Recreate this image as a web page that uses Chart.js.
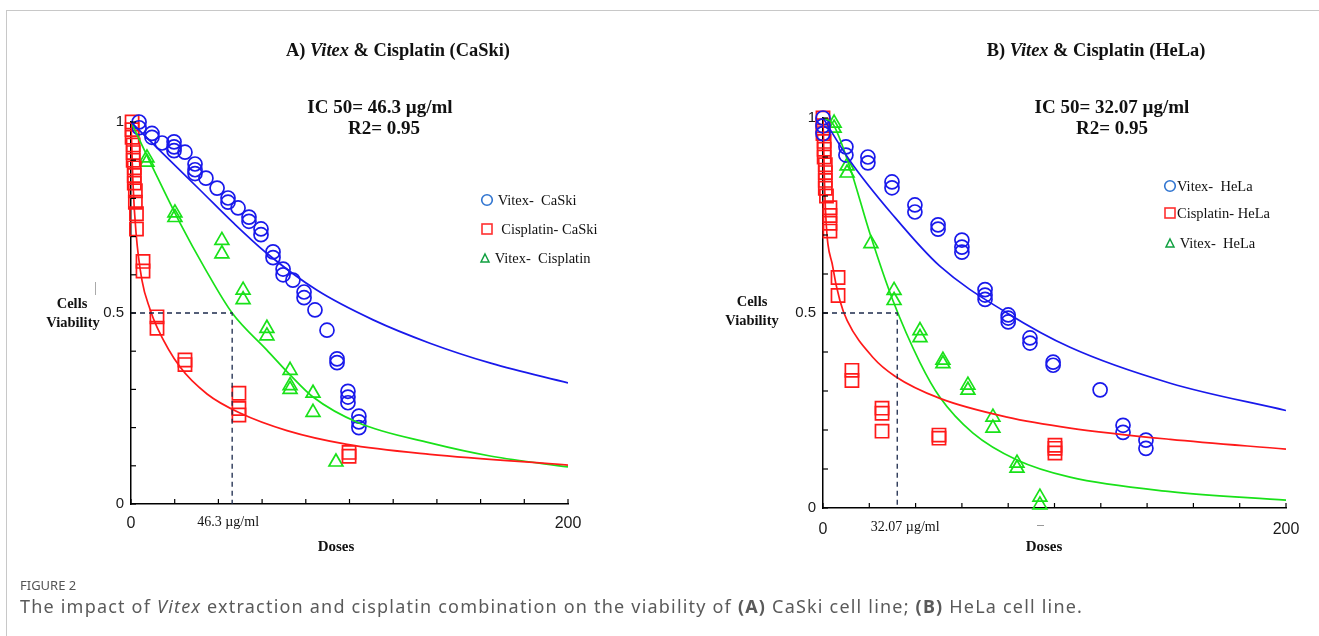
<!DOCTYPE html>
<html>
<head>
<meta charset="utf-8">
<script src="https://cdn.jsdelivr.net/npm/chart.js@4.4.1/dist/chart.umd.min.js"></script>
<style>
body{margin:0;background:#fff;width:1319px;height:636px;overflow:hidden;position:relative;font-family:"Liberation Serif",serif;color:#111;}
.frame{position:absolute;left:6px;top:10px;right:-4px;bottom:-4px;border-top:1px solid #c8c8c8;border-left:1px solid #c8c8c8;}
canvas{position:absolute;top:0;}
.t{position:absolute;white-space:nowrap;transform:translate(-50%,-50%);}
.b{font-weight:bold;}
.leg{position:absolute;white-space:nowrap;font-size:14.5px;line-height:18px;transform:translateY(-50%);}
.cap{position:absolute;left:20px;white-space:nowrap;font-family:"Noto Sans",sans-serif;color:#5a5a5a;transform:translateY(-50%);}
</style>
</head>
<body>
<div class="frame"></div>
<canvas id="chartA" width="660" height="600" style="left:0"></canvas>
<canvas id="chartB" width="659" height="600" style="left:660px"></canvas>

<div class="t b" style="left:398px;top:50px;font-size:18.4px">A) <i>Vitex</i> &amp; Cisplatin (CaSki)</div>
<div class="t b" style="left:380px;top:107px;font-size:19px">IC 50= 46.3 µg/ml</div>
<div class="t b" style="left:384px;top:128px;font-size:19px">R2= 0.95</div>
<div class="t b" style="left:72px;top:303px;font-size:14.5px">Cells</div>
<div class="t b" style="left:73px;top:322px;font-size:14.5px">Viability</div>
<div class="t b" style="left:336px;top:546px;font-size:15px">Doses</div>
<div style="position:absolute;left:95px;top:282px;width:1px;height:13px;background:#aaa"></div>

<div class="t b" style="left:1096px;top:50px;font-size:18.4px">B) <i>Vitex</i> &amp; Cisplatin (HeLa)</div>
<div class="t b" style="left:1112px;top:107px;font-size:19px">IC 50= 32.07 µg/ml</div>
<div class="t b" style="left:1112px;top:128px;font-size:19px">R2= 0.95</div>
<div class="t b" style="left:752px;top:301px;font-size:14.5px">Cells</div>
<div class="t b" style="left:752px;top:320px;font-size:14.5px">Viability</div>
<div class="t b" style="left:1044px;top:546px;font-size:15px">Doses</div>
<div style="position:absolute;left:1037px;top:525px;width:7px;height:1px;background:#999"></div>

<div class="leg" style="left:480px;top:200px"><svg width="14" height="14" style="vertical-align:-2px"><circle cx="7" cy="7" r="5.3" fill="none" stroke="#2f74d0" stroke-width="1.6"/></svg>&nbsp;Vitex-&nbsp; CaSki</div>
<div class="leg" style="left:480px;top:229px"><svg width="14" height="14" style="vertical-align:-2px"><rect x="2" y="2" width="10" height="10" fill="none" stroke="#ff3030" stroke-width="1.6"/></svg>&nbsp; Cisplatin- CaSki</div>
<div class="leg" style="left:479px;top:258px"><svg width="12" height="12" style="vertical-align:-1px"><polygon points="6,2 10,10 2,10" fill="none" stroke="#10a040" stroke-width="1.5"/></svg>&nbsp;Vitex-&nbsp; Cisplatin</div>

<div class="leg" style="left:1163px;top:186px"><svg width="14" height="14" style="vertical-align:-2px"><circle cx="7" cy="7" r="5.3" fill="none" stroke="#2f74d0" stroke-width="1.6"/></svg>Vitex-&nbsp; HeLa</div>
<div class="leg" style="left:1163px;top:213px"><svg width="14" height="14" style="vertical-align:-2px"><rect x="2" y="2" width="10" height="10" fill="none" stroke="#ff3030" stroke-width="1.6"/></svg>Cisplatin- HeLa</div>
<div class="leg" style="left:1164px;top:243px"><svg width="12" height="12" style="vertical-align:-1px"><polygon points="6,2 10,10 2,10" fill="none" stroke="#10a040" stroke-width="1.5"/></svg>&nbsp;Vitex-&nbsp; HeLa</div>

<div class="cap" style="top:585px;font-size:13px;color:#555">FIGURE 2</div>
<div class="cap" style="top:606px;font-size:18px;letter-spacing:1.2px">The impact of <i>Vitex</i> extraction and cisplatin combination on the viability of <b>(A)</b> CaSki cell line; <b>(B)</b> HeLa cell line.</div>

<script>
// axis labels kept
const ticksX = [0, 200];
const ticksY = [0, 0.5, 1];

// A) CaSki - measured points
const caskiVitexDose = [3.7,3.7,9.6,9.6,14.2,19.7,19.7,19.7,24.7,29.3,29.3,29.3,34.3,39.4,44.4,44.4,49,54,54,59.5,59.5,65,65,69.6,69.6,74.1,79.2,79.2,84.2,89.7,94.3,94.3,99.3,99.3,99.3,104.3,104.3,104.3];
const caskiVitexViab = [1.0,0.985,0.97,0.96,0.945,0.948,0.935,0.925,0.921,0.89,0.875,0.865,0.853,0.827,0.801,0.79,0.775,0.751,0.74,0.72,0.705,0.66,0.645,0.615,0.6,0.586,0.555,0.54,0.508,0.455,0.38,0.37,0.295,0.28,0.265,0.23,0.215,0.2];
const caskiCisDose = [0.5,0.5,0.5,1,1,1,1.5,1.5,1.5,2,2,2.5,2.5,5.5,5.5,11.9,11.9,24.7,24.7,49.4,49.4,49.4,99.8,99.8];
const caskiCisViab = [1.0,0.98,0.96,0.94,0.92,0.9,0.88,0.86,0.84,0.82,0.79,0.76,0.72,0.635,0.61,0.49,0.46,0.377,0.365,0.29,0.25,0.233,0.135,0.125];
const caskiComboDose = [7.3,7.3,20.1,20.1,41.6,41.6,51.3,51.3,62.2,62.2,72.8,72.8,72.8,83.3,83.3,93.8];
const caskiComboViab = [0.906,0.895,0.762,0.75,0.69,0.655,0.56,0.535,0.46,0.44,0.35,0.31,0.3,0.29,0.24,0.11];

// A) CaSki - fitted curves (read off the figure)
const caskiVitexFitDose = [0,15,31.6,47,62,85,110.8,136.8,165,200];
const caskiVitexFitViab = [1.0,0.915,0.822,0.735,0.657,0.56,0.482,0.421,0.368,0.317];
const caskiCisFitDose = [0,0.9,2.3,5,8.7,12,22.4,34.8,49.9,71.4,98.9,136.8,200];
const caskiCisFitViab = [1.0,0.84,0.71,0.586,0.51,0.462,0.359,0.288,0.238,0.192,0.156,0.13,0.102];
const caskiComboFitDose = [0,10,22.4,34,46.3,62.2,72.8,83.3,104.3,136.8,165,200];
const caskiComboFitViab = [1.0,0.88,0.736,0.615,0.5,0.403,0.338,0.28,0.212,0.16,0.125,0.097];
const caskiIC50 = 46.3;

// B) HeLa - measured points
const helaVitexDose = [0,0,0,9.9,9.9,19.4,19.4,29.8,29.8,39.7,39.7,49.7,49.7,60,60,60,70,70,70,80,80,80,89.4,89.4,99.4,99.4,119.7,129.6,129.6,139.5,139.5];
const helaVitexViab = [1.0,0.98,0.96,0.926,0.905,0.9,0.885,0.836,0.821,0.777,0.759,0.726,0.715,0.687,0.669,0.656,0.56,0.546,0.535,0.495,0.487,0.477,0.436,0.423,0.374,0.366,0.303,0.212,0.194,0.174,0.153];
const helaCisDose = [0,0,0,0.5,0.5,0.5,1,1,1,1,1.5,3,3,3,3,6.5,6.5,12.5,12.5,25.5,25.5,25.5,50.1,50.1,100.2,100.2,100.2];
const helaCisViab = [1.0,0.98,0.96,0.94,0.92,0.9,0.88,0.86,0.84,0.82,0.8,0.77,0.75,0.73,0.71,0.591,0.545,0.353,0.327,0.256,0.243,0.197,0.187,0.179,0.161,0.153,0.141];
const helaComboDose = [4.8,4.8,10.4,10.4,20.7,30.7,30.7,41.9,41.9,51.8,51.8,62.6,62.6,73.4,73.4,83.8,83.8,93.7,93.7];
const helaComboViab = [0.987,0.974,0.877,0.859,0.678,0.558,0.532,0.455,0.437,0.379,0.37,0.315,0.302,0.233,0.205,0.115,0.102,0.028,0.008];

// B) HeLa - fitted curves
const helaVitexFitDose = [0,11.7,29.8,50.5,79.5,106.7,150,200];
const helaVitexFitViab = [1.0,0.89,0.754,0.62,0.5,0.412,0.32,0.25];
const helaCisFitDose = [0,0.9,4.3,7.3,10.4,21.6,31.1,50.5,79.5,106.7,150,200];
const helaCisFitViab = [1.0,0.788,0.616,0.532,0.481,0.386,0.338,0.281,0.233,0.205,0.176,0.151];
const helaComboFitDose = [0,4.3,11.7,20.3,30.2,41.9,50.5,64.8,83.8,106.7,150,200];
const helaComboFitViab = [1.0,0.985,0.872,0.703,0.532,0.373,0.284,0.192,0.123,0.079,0.042,0.02];
const helaIC50 = 32.07;

const BLUE = "rgb(25,25,235)";
const RED = "rgb(255,25,25)";
const GREEN = "rgb(25,225,25)";

function pts(xs, ys) {
  return xs.map((x, i) => ({ x: x, y: ys[i] }));
}

function points(xs, ys, color, style, r) {
  return {
    data: pts(xs, ys),
    showLine: false,
    pointStyle: style,
    pointRadius: r,
    pointBorderColor: color,
    pointBackgroundColor: "rgba(0,0,0,0)",
    pointBorderWidth: 1.7,
    clip: false,
  };
}

function curve(xs, ys, color) {
  return {
    data: pts(xs, ys),
    borderColor: color,
    borderWidth: 1.7,
    pointRadius: 0,
    cubicInterpolationMode: "monotone",
    fill: false,
  };
}

function ic50Line(ic) {
  return {
    data: [{ x: 0, y: 0.5 }, { x: ic, y: 0.5 }, { x: ic, y: 0 }],
    borderColor: "#1c2a4c",
    borderWidth: 1.3,
    borderDash: [5, 4],
    pointRadius: 0,
    tension: 0,
  };
}

// petits traits de graduation vers l'interieur + etiquette IC50
const innerTicks = {
  id: "innerTicks",
  afterDraw(chart, args, opts) {
    const { ctx, chartArea, scales } = chart;
    ctx.save();
    ctx.strokeStyle = "#000";
    ctx.lineWidth = 1.2;
    scales.x.ticks.forEach((t) => {
      const px = scales.x.getPixelForValue(t.value);
      ctx.beginPath();
      ctx.moveTo(px, chartArea.bottom);
      ctx.lineTo(px, chartArea.bottom - 5);
      ctx.stroke();
    });
    scales.y.ticks.forEach((t) => {
      const py = scales.y.getPixelForValue(t.value);
      ctx.beginPath();
      ctx.moveTo(chartArea.left, py);
      ctx.lineTo(chartArea.left + 5, py);
      ctx.stroke();
    });
    ctx.font = '14px "Liberation Serif"';
    ctx.fillStyle = "#111";
    ctx.textAlign = "center";
    ctx.textBaseline = "middle";
    ctx.fillText(opts.label, scales.x.getPixelForValue(opts.ic50) + opts.dx, chartArea.bottom + opts.dy);
    ctx.restore();
  },
};

function makePanel(id, pad, xPad, sets, ic, label, dx, dy) {
  const context = document.getElementById(id).getContext("2d");
  return new Chart(context, {
    type: "line",
    data: { datasets: sets },
    options: {
      responsive: false,
      animation: false,
      devicePixelRatio: 1,
      layout: { padding: pad },
      plugins: {
        legend: false,
        tooltip: { enabled: false },
        innerTicks: { ic50: ic, label: label, dx: dx, dy: dy },
      },
      scales: {
        x: {
          type: "linear",
          min: 0,
          max: 200,
          afterFit: (s) => { s.height = 30; },
          border: { color: "#000", width: 1.5 },
          grid: { display: false, drawTicks: false },
          ticks: {
            stepSize: 20,
            autoSkip: false,
            maxRotation: 0,
            padding: xPad,
            color: "#1a1a1a",
            font: { family: "Liberation Sans", size: 16 },
            callback: (v) => (ticksX.includes(v) ? String(v) : ""),
          },
        },
        y: {
          min: 0,
          max: 1,
          afterFit: (s) => { s.width = 40; },
          border: { color: "#000", width: 1.5 },
          grid: { display: false, drawTicks: false },
          ticks: {
            stepSize: 0.1,
            autoSkip: false,
            padding: 7,
            color: "#1a1a1a",
            font: { family: "Liberation Sans", size: 15 },
            callback: (v) => (ticksY.some((t) => Math.abs(t - v) < 1e-6) ? String(+v.toFixed(1)) : ""),
          },
        },
      },
    },
    plugins: [innerTicks],
  });
}

makePanel("chartA", { left: 91, right: 92, top: 122, bottom: 66 }, 10, [
  ic50Line(caskiIC50),
  curve(caskiVitexFitDose, caskiVitexFitViab, BLUE),
  curve(caskiCisFitDose, caskiCisFitViab, RED),
  curve(caskiComboFitDose, caskiComboFitViab, GREEN),
  points(caskiVitexDose, caskiVitexViab, BLUE, "circle", 7),
  points(caskiCisDose, caskiCisViab, RED, "rect", 9.3),
  points(caskiComboDose, caskiComboViab, GREEN, "triangle", 8),
], caskiIC50, "46.3 µg/ml", -4, 18);

makePanel("chartB", { left: 123, right: 33, top: 118, bottom: 62 }, 12, [
  ic50Line(helaIC50),
  curve(helaVitexFitDose, helaVitexFitViab, BLUE),
  curve(helaCisFitDose, helaCisFitViab, RED),
  curve(helaComboFitDose, helaComboFitViab, GREEN),
  points(helaVitexDose, helaVitexViab, BLUE, "circle", 7),
  points(helaCisDose, helaCisViab, RED, "rect", 9.3),
  points(helaComboDose, helaComboViab, GREEN, "triangle", 8),
], helaIC50, "32.07 µg/ml", 8, 19);
</script>
</body>
</html>
